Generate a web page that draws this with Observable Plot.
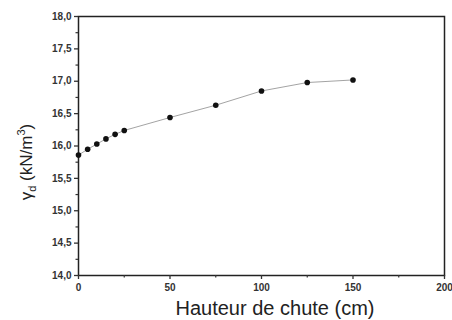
<!DOCTYPE html>
<html><head><meta charset="utf-8">
<script src="https://cdn.jsdelivr.net/npm/d3@7"></script>
<script src="https://cdn.jsdelivr.net/npm/@observablehq/plot@0.6"></script>
<style>body{margin:0;background:#fff}</style>
</head><body><div id="chart"></div>
<script>
const heights = [0, 5, 10, 15, 20, 25, 50, 75, 100, 125, 150];
const gammaD = [15.86, 15.95, 16.03, 16.11, 16.18, 16.24, 16.44, 16.63, 16.85, 16.98, 17.02];
const xTicks = [0, 50, 100, 150, 200];
const yTicks = [14, 14.5, 15, 15.5, 16, 16.5, 17, 17.5, 18];
const xMinor = [25, 75, 125, 175];
const yMinor = [14.25, 14.75, 15.25, 15.75, 16.25, 16.75, 17.25, 17.75];
const xTitle = "Hauteur de chute (cm)";

const data = heights.map((h, i) => ({h, g: gammaD[i]}));
const fmt = v => v.toFixed(1).replace(".", ",");

const plot = Plot.plot({
  width: 452, height: 320,
  marginLeft: 78, marginRight: 8, marginTop: 16, marginBottom: 45,
  style: {fontFamily: "Liberation Sans, Arial, sans-serif", fontSize: "10px", fontWeight: "bold", color: "#333", background: "#fff"},
  x: {domain: [0, 200]},
  y: {domain: [14, 18]},
  marks: [
    Plot.frame({stroke: "#222", strokeWidth: 1.5}),
    Plot.axisX({ticks: xTicks, tickSize: 4, tickPadding: 4, label: null, fontSize: 10, strokeWidth: 1.3}),
    Plot.axisX({ticks: xMinor, tickSize: 2.5, text: null, label: null, strokeWidth: 1.2}),
    Plot.axisY({ticks: yTicks, tickSize: 4, tickPadding: 3, tickFormat: fmt, label: null, fontSize: 10, strokeWidth: 1.3}),
    Plot.axisY({ticks: yMinor, tickSize: 2.5, text: null, label: null, strokeWidth: 1.2}),
    Plot.line(data, {x: "h", y: "g", stroke: "#999", strokeWidth: 0.9}),
    Plot.dot(data, {x: "h", y: "g", r: 2.8, fill: "#111", stroke: "none"})
  ]
});

const svg = d3.select(plot);
svg.append("text")
  .attr("x", 275).attr("y", 315)
  .attr("text-anchor", "middle")
  .attr("font-size", 20).attr("font-weight", "normal").attr("fill", "#222")
  .text(xTitle);
const yl = svg.append("text")
  .attr("transform", "translate(32,162) rotate(-90)")
  .attr("text-anchor", "middle")
  .attr("font-size", 17).attr("font-weight", "normal").attr("fill", "#222");
yl.append("tspan").text("γ");
yl.append("tspan").attr("font-size", 11).attr("dy", 4).text("d");
yl.append("tspan").attr("dy", -4).text(" (kN/m");
yl.append("tspan").attr("font-size", 11).attr("dy", -7).text("3");
yl.append("tspan").attr("dy", 7).text(")");

document.getElementById("chart").append(plot);
</script>
</body></html>
